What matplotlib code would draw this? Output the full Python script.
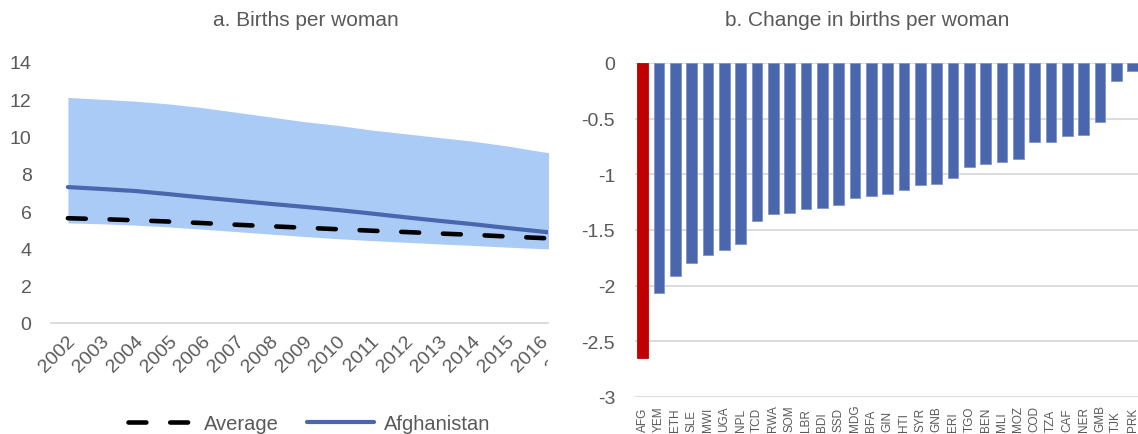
import numpy as np
import matplotlib
matplotlib.use('Agg')
import matplotlib.pyplot as plt
from matplotlib.transforms import Bbox, TransformedBbox, ScaledTranslation

plt.rcParams['font.family'] = ['Liberation Sans', 'DejaVu Sans']

# a. Births per woman
years = list(range(2002, 2018))
band_hi = [12.1, 12.0, 11.9, 11.75, 11.55, 11.3, 11.05, 10.8, 10.6, 10.35, 10.15, 9.95, 9.75, 9.5, 9.2, 8.95]
band_lo = [5.37, 5.32, 5.25, 5.15, 5.03, 4.9, 4.77, 4.64, 4.52, 4.42, 4.33, 4.24, 4.16, 4.07, 3.99, 3.93]
afg = [7.29, 7.19, 7.08, 6.91, 6.73, 6.56, 6.39, 6.23, 6.06, 5.87, 5.67, 5.48, 5.3, 5.1, 4.91, 4.72]
avg = [5.62, 5.57, 5.51, 5.44, 5.36, 5.27, 5.19, 5.11, 5.03, 4.95, 4.88, 4.80, 4.73, 4.64, 4.56, 4.47]
left_yticks = [0, 2, 4, 6, 8, 10, 12, 14]

# b. Change in births per woman
codes = ['AFG', 'YEM', 'ETH', 'SLE', 'MWI', 'UGA', 'NPL', 'TCD', 'RWA', 'SOM', 'LBR',
         'BDI', 'SSD', 'MDG', 'BFA', 'GIN', 'HTI', 'SYR', 'GNB', 'ERI', 'TGO', 'BEN',
         'MLI', 'MOZ', 'COD', 'TZA', 'CAF', 'NER', 'GMB', 'TJK', 'PRK']
change = [-2.65, -2.066, -1.914, -1.798, -1.729, -1.681, -1.625, -1.419, -1.356, -1.347,
          -1.311, -1.30, -1.279, -1.21, -1.195, -1.174, -1.141, -1.10, -1.085, -1.031,
          -0.938, -0.912, -0.891, -0.867, -0.709, -0.709, -0.658, -0.652, -0.53, -0.163, -0.07]
right_yticks = [-3, -2.5, -2, -1.5, -1, -0.5, 0]

txt = '#595959'
grid = '#D9D9D9'
blue = '#4A66AC'

fig = plt.figure(figsize=(11.38, 4.35), dpi=100)

# left panel
ax1 = fig.add_axes([51/1138, 1-324/435, 497/1138, 261/435])
ax1.fill_between(years, band_lo, band_hi, color='#ABCBF7', linewidth=0)
l_avg, = ax1.plot(years, avg, color='black', lw=3.3, dashes=(3.9, 5.2),
                  dash_capstyle='round', label='Average')
l_afg, = ax1.plot(years, afg, color=blue, lw=3.0, solid_capstyle='round', label='Afghanistan')
ax1.set_xlim(2001.5, 2016.22)
ax1.set_ylim(0, 14)
ax1.set_yticks(left_yticks)
ax1.set_xticks(years[:-1])
ax1.set_xticklabels([str(y) for y in years[:-1]], rotation=45, ha='right', va='center',
                    rotation_mode='anchor')
ax1.tick_params(axis='both', length=0, colors=txt, labelsize=14)
ax1.tick_params(axis='y', pad=14)
ax1.tick_params(axis='x', pad=11)
for s in ['top', 'right', 'left']:
    ax1.spines[s].set_visible(False)
ax1.spines['bottom'].set_color(grid)
ax1.spines['bottom'].set_linewidth(1.3)
shift = ScaledTranslation(5/100, 0, fig.dpi_scale_trans)
for lab in ax1.get_xticklabels():
    lab.set_transform(lab.get_transform() + shift)
# the next year label is cut by the panel edge
extra = ax1.text(years[-1], 0, str(years[-1]), rotation=45, ha='right', va='center',
                 rotation_mode='anchor', fontsize=14, color=txt,
                 transform=ax1.get_xaxis_transform() + ScaledTranslation(5/100, -11/72, fig.dpi_scale_trans))
extra.set_clip_box(TransformedBbox(Bbox([[-0.2, -1.0], [1.0, 1.0]]), ax1.transAxes))
extra.set_clip_on(True)
fig.text((51 + 254.5)/1138, 1-20/435, 'a. Births per woman', ha='center', va='center',
         fontsize=15, color=txt)

fig.legend(handles=[l_avg, l_afg], loc='center', bbox_to_anchor=(309/1138, 1-425/435),
           ncol=2, frameon=False, fontsize=14.5, handlelength=3.3, handletextpad=0.5,
           columnspacing=1.4, labelcolor=txt)

# right panel
ax2 = fig.add_axes([634.5/1138, 1-398.3/435, 503.5/1138, 334.8/435])
x = np.arange(len(codes))
colors = ['#C00000'] + [blue] * (len(codes) - 1)
ax2.bar(x, change, width=0.65, color=colors, edgecolor=['#C00000'] + ['#7F93C8'] * (len(codes) - 1),
        linewidth=0.6, zorder=3)
ax2.set_xlim(-0.5, 30.33)
ax2.set_ylim(-3.003, 0.003)
ax2.set_yticks(right_yticks)
ax2.set_yticklabels([f'{v:g}' for v in right_yticks])
ax2.yaxis.grid(True, color=grid, lw=1.3, zorder=0)
ax2.set_xticks(x)
ax2.set_xticklabels(codes, rotation=90, ha='center', va='bottom', fontsize=8.5)
ax2.tick_params(axis='both', length=0, colors=txt)
ax2.tick_params(axis='y', labelsize=14, pad=14)
ax2.tick_params(axis='x', pad=24.5)
for s in ax2.spines.values():
    s.set_visible(False)
fig.text(867/1138, 1-20/435, 'b. Change in births per woman', ha='center', va='center',
         fontsize=15, color=txt)

fig.savefig('out.png', dpi=100)
